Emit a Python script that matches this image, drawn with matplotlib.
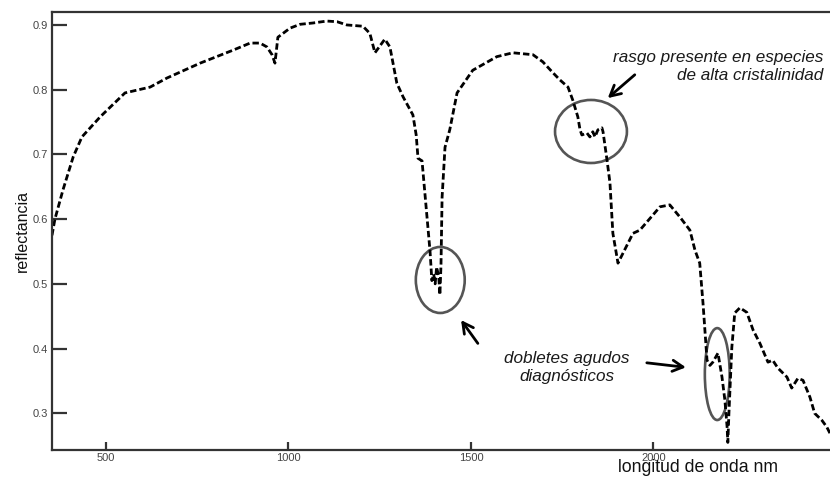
import matplotlib
matplotlib.use("Agg")
import matplotlib.pyplot as plt
from matplotlib.patches import Ellipse

plt.rcParams['font.family'] = ['Liberation Sans', 'DejaVu Sans']

# wavelength (nm) and reflectance
wavelength = [352, 360, 382, 410, 434, 484, 552, 621, 667, 758, 848, 895, 922, 941,
              955, 963, 971, 1004, 1032, 1067, 1105, 1133, 1160, 1204, 1223, 1237,
              1264, 1278, 1297, 1314, 1341, 1350, 1355, 1366, 1377, 1388, 1393, 1398,
              1402, 1406, 1412, 1415, 1418, 1421, 1429, 1442, 1462, 1505, 1571, 1615,
              1670, 1697, 1725, 1744, 1766, 1779, 1793, 1799, 1804, 1818, 1826, 1834,
              1840, 1848, 1859, 1862, 1873, 1881, 1889, 1903, 1944, 1963, 2018, 2045,
              2073, 2100, 2114, 2127, 2136, 2147, 2155, 2163, 2177, 2188, 2196, 2202,
              2204, 2207, 2215, 2223, 2237, 2256, 2273, 2292, 2314, 2327, 2341, 2366,
              2379, 2396, 2410, 2429, 2442, 2462, 2475, 2484]
reflectance = [0.575, 0.600, 0.645, 0.696, 0.727, 0.758, 0.795, 0.804, 0.818, 0.841,
               0.861, 0.872, 0.872, 0.866, 0.854, 0.841, 0.881, 0.895, 0.901, 0.903,
               0.906, 0.905, 0.900, 0.898, 0.887, 0.857, 0.878, 0.866, 0.810, 0.789,
               0.761, 0.730, 0.694, 0.690, 0.620, 0.550, 0.505, 0.515, 0.500, 0.526,
               0.510, 0.483, 0.530, 0.634, 0.711, 0.738, 0.795, 0.830, 0.851, 0.857,
               0.854, 0.843, 0.826, 0.815, 0.804, 0.784, 0.758, 0.738, 0.730, 0.733,
               0.727, 0.735, 0.727, 0.738, 0.741, 0.735, 0.691, 0.656, 0.578, 0.532,
               0.578, 0.583, 0.619, 0.622, 0.603, 0.583, 0.552, 0.532, 0.470, 0.382,
               0.374, 0.379, 0.393, 0.356, 0.320, 0.279, 0.255, 0.300, 0.402, 0.455,
               0.463, 0.456, 0.429, 0.408, 0.379, 0.382, 0.370, 0.356, 0.339, 0.354,
               0.351, 0.325, 0.300, 0.289, 0.279, 0.269]

x_ticks = [500, 1000, 1500, 2000]
y_ticks = [0.3, 0.4, 0.5, 0.6, 0.7, 0.8, 0.9]

fig = plt.figure(figsize=(8.3, 4.78), dpi=100)
ax = fig.add_axes([52/830, 28/478, 778/830, 438/478])

ax.plot(wavelength, reflectance, color='black', lw=2.0,
        linestyle=(0, (2.3, 1.1)), solid_capstyle='butt')

ax.set_xlim(352, 2484)
ax.set_ylim(0.2433, 0.920)
ax.set_xticks(x_ticks)
ax.set_xticklabels([str(v) for v in x_ticks])
ax.set_yticks(y_ticks)
ax.set_yticklabels([f"{v:.1f}" for v in y_ticks])

spine_col = '#333333'
for side in ['left', 'top', 'bottom']:
    ax.spines[side].set_color(spine_col)
    ax.spines[side].set_linewidth(1.6)
ax.spines['right'].set_visible(False)

ax.tick_params(axis='y', direction='in', length=11, width=1.6, color=spine_col,
               labelsize=8, labelcolor='#444444', pad=3)
ax.tick_params(axis='x', direction='in', length=6, width=1.6, color=spine_col,
               labelsize=8, labelcolor='#444444', pad=2)

ax.set_ylabel('reflectancia', fontsize=11.5, color='#111111', labelpad=2)
fig.text(698/830, 1 - 467/478, 'longitud de onda nm', fontsize=12.7,
         color='#111111', ha='center', va='center')

# annotation ellipses
ell_col = '#555555'
for (cx, cy, w, h) in [(1416, 0.506, 134, 0.102),
                       (1829, 0.7354, 197, 0.0974),
                       (2175, 0.3606, 68, 0.142)]:
    ax.add_patch(Ellipse((cx, cy), w, h, fill=False, edgecolor=ell_col, lw=1.9))

arrow_kw = dict(arrowstyle='->, head_length=0.75, head_width=0.4', color='black',
                lw=2.0, shrinkA=0, shrinkB=0)
ax.annotate('', xy=(1473, 0.444), xytext=(1519, 0.408), arrowprops=arrow_kw)
ax.annotate('', xy=(2089, 0.371), xytext=(1982, 0.378), arrowprops=arrow_kw)
ax.annotate('', xy=(1875, 0.787), xytext=(1949, 0.823), arrowprops=arrow_kw)

ax.text(2466, 0.836, 'rasgo presente en especies\nde alta cristalinidad',
        fontsize=12.3, style='italic', color='#1a1a1a', ha='right', va='center',
        multialignment='right', linespacing=1.2)
ax.text(1763, 0.371, 'dobletes agudos\ndiagnósticos',
        fontsize=12.3, style='italic', color='#1a1a1a', ha='center', va='center',
        multialignment='center', linespacing=1.2)

fig.savefig('out.png', dpi=100)
